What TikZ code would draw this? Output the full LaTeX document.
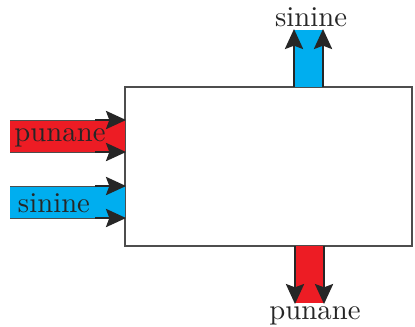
\documentclass[tikz,border=0pt]{standalone}
\usetikzlibrary{arrows.meta}
\definecolor{pred}{HTML}{ED1C24}
\definecolor{pblue}{HTML}{00AEEF}
\definecolor{edge}{HTML}{4D4D4D}
\begin{document}
\begin{tikzpicture}[x=0.348pt,y=-0.348pt,
  band/.style={draw=edge,line width=0.35pt},
  flow/.style={draw=black!85,line width=0.5pt,-{Stealth[length=7pt,width=6.4pt,inset=1.2pt]}},
  lbl/.style={font=\fontsize{10}{12}\selectfont,text=black!85,inner sep=0pt}]
\useasboundingbox (0,0) rectangle (415,326);
% main box
\draw[draw=edge,line width=0.4pt] (125,87) rectangle (412,246);
\coordinate (box) at (268,166);
% left red band
\fill[pred] (10,120) rectangle (125,152);
\draw[band] (10,120) -- (125,120) (10,152) -- (125,152);
\coordinate (r1s) at (95,120); \coordinate (r1e) at (126,120);
\coordinate (r2s) at (95,152); \coordinate (r2e) at (126,152);
\draw[flow] (r1s) -- (r1e);
\draw[flow] (r2s) -- (r2e);
\node[lbl] (pl) at (60,138) {punane};
% left blue band
\fill[pblue] (10,186) rectangle (125,218);
\draw[band] (10,186) -- (125,186) (10,218) -- (125,218);
\coordinate (b1s) at (95,186); \coordinate (b1e) at (126,186);
\coordinate (b2s) at (95,218); \coordinate (b2e) at (126,218);
\draw[flow] (b1s) -- (b1e);
\draw[flow] (b2s) -- (b2e);
\node[lbl] (sl) at (54,203) {sinine};
% top blue band
\fill[pblue] (294,30) rectangle (323,87);
\coordinate (t1s) at (294,87); \coordinate (t1e) at (294,29);
\coordinate (t2s) at (323,87); \coordinate (t2e) at (323,29);
\draw[flow] (t1s) -- (t1e);
\draw[flow] (t2s) -- (t2e);
\node[lbl] (st) at (311,17) {sinine};
% bottom red band
\fill[pred] (295,246) rectangle (324,303);
\coordinate (d1s) at (295,246); \coordinate (d1e) at (295,304);
\coordinate (d2s) at (324,246); \coordinate (d2e) at (324,304);
\draw[flow] (d1s) -- (d1e);
\draw[flow] (d2s) -- (d2e);
\node[lbl] (pb) at (315,316) {punane};
\end{tikzpicture}
\end{document}
